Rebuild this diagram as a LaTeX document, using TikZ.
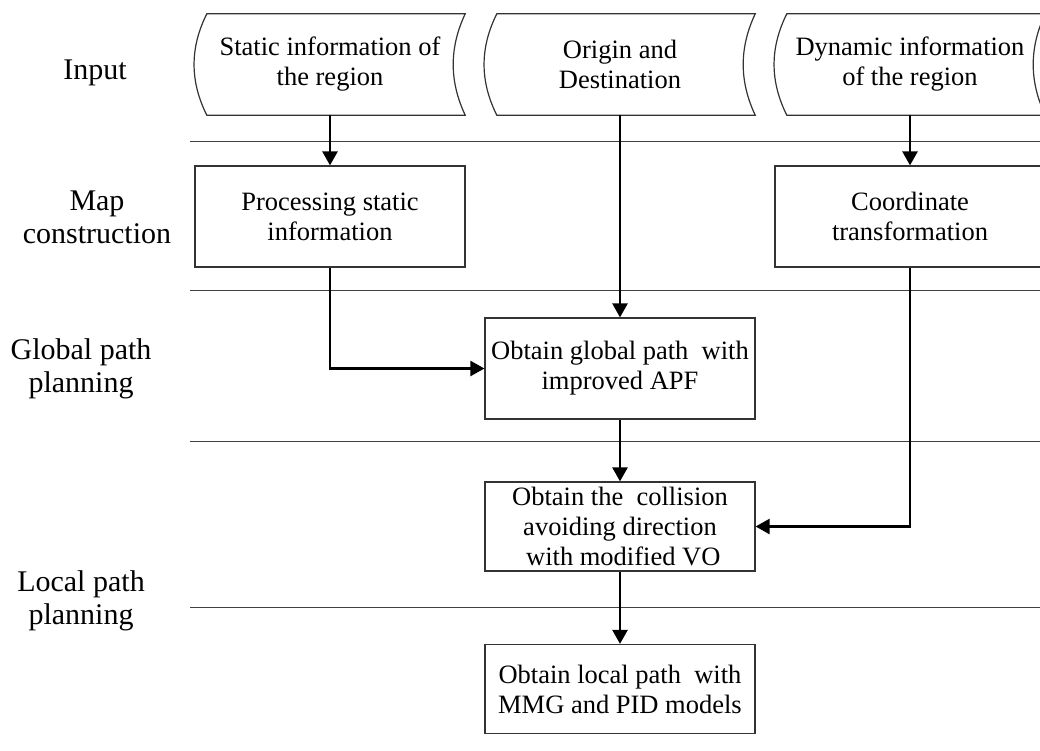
\documentclass[tikz,border=0pt]{standalone}
\usepackage{fontspec}
\setmainfont{Liberation Serif}
\usetikzlibrary{arrows.meta,calc}
\newcommand\datashape[1]{%
  \draw[shapeline] ([xshift=6pt]#1.north west) -- ([xshift=6pt]#1.north east)
    .. controls +(-16,34) and +(-16,-34) .. ([xshift=6pt]#1.south east)
    -- ([xshift=6pt]#1.south west)
    .. controls +(-17,-34) and +(-17,34) .. ([xshift=6pt]#1.north west) -- cycle;}
\begin{document}
\begin{tikzpicture}[x=1pt,y=-1pt,
  every node/.style={font=\fontsize{26.5}{30}\selectfont, align=center, inner sep=0pt, text=black},
  box/.style={draw=black!80, line width=1.2pt, minimum width=270pt, minimum height=101pt},
  sbox/.style={box, minimum height=89pt},
  inshape/.style={minimum width=258pt, minimum height=101pt},
  shapeline/.style={draw=black!80, line width=1.2pt},
  sep/.style={draw=black!75, line width=1pt},
  flow/.style={line width=2.4pt, -{Triangle[length=14pt,width=15pt]}},
  lbl/.style={font=\fontsize{30}{33}\selectfont}]
\useasboundingbox (0,0) rectangle (1040,751);
\clip (0,0) rectangle (1040,751);
\fill[white] (0,0) rectangle (1040,751);

% separators
\coordinate (s1a) at (190,142); \coordinate (s1b) at (1040,142);
\coordinate (s2a) at (190,290); \coordinate (s2b) at (1040,290);
\coordinate (s3a) at (190,441); \coordinate (s3b) at (1040,441);
\coordinate (s4a) at (190,607); \coordinate (s4b) at (1040,607);
\draw[sep] (s1a) -- (s1b);
\draw[sep] (s2a) -- (s2b);
\draw[sep] (s3a) -- (s3b);
\draw[sep] (s4a) -- (s4b);

% row labels
\node[lbl] (l1) at (95,73) {Input};
\node[lbl] (l2) at (97,217) {Map\\construction};
\node[lbl] (l3) at (81,369) {Global path\\planning};
\node[lbl] (l4) at (81,601) {Local path\\planning};

% input shapes
\node[inshape] (in1) at (330,64.5) {Static information of\\the region};
\node[inshape] (in2) at (620,64.5) {Origin and\\Destination};
\node[inshape] (in3) at (910,64.5) {Dynamic information\\of the region};
\datashape{in1}
\datashape{in2}
\datashape{in3}

% process boxes
\node[box] (b1) at (330,216.5) {Processing static\\information};
\node[box] (ct) at (910,216.5) {Coordinate\\transformation};
\node[box] (glob) at (620,368.5) {Obtain global path\ \ with\\improved APF};
\node[sbox] (coll) at (620,526.5) {Obtain the\ \ collision\\avoiding direction\\\ with modified VO};
\node[sbox] (loc) at (620,689) {Obtain local path\ \ with\\MMG and PID models};

% connectors
\draw[flow] (in1.south) -- (b1.north);
\draw[flow] (in3.south) -- (ct.north);
\draw[flow] (in2.south) -- (glob.north);
\draw[flow] (b1.south) |- (glob.west);
\draw[flow] (glob.south) -- (coll.north);
\draw[flow] (ct.south) |- (coll.east);
\draw[flow] (coll.south) -- (loc.north);
\end{tikzpicture}
\end{document}
